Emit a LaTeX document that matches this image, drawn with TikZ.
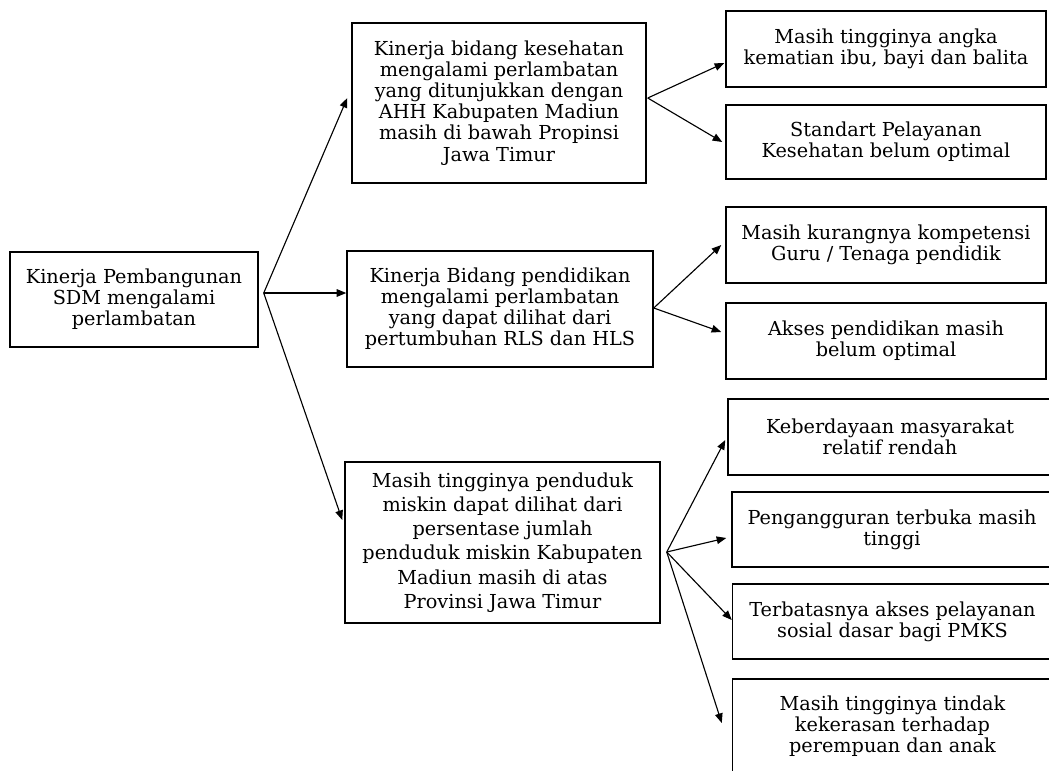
\documentclass[tikz,border=0pt]{standalone}
\usepackage{fontspec}
\setmainfont{DejaVu Serif}
\usetikzlibrary{arrows.meta, calc}

\begin{document}
\begin{tikzpicture}[x=0.025cm, y=-0.025cm, >={Triangle[length=2.4mm, width=1.9mm]},
  every node/.style={font=\fontsize{13.7}{15}\selectfont},
  box/.style={draw, line width=1pt, align=center, inner sep=0pt},
  link/.style={->, line width=0.8pt}]
  \useasboundingbox (0,0) rectangle (1049,770);
  % level 1
  \node[box, minimum width=6.2cm, minimum height=2.375cm] (sdm) at (134,299.5) {Kinerja Pembangunan\\SDM mengalami\\perlambatan};
  % level 2
  \node[box, minimum width=7.35cm, minimum height=4.0cm] (kesehatan) at (499,103) {Kinerja bidang kesehatan\\mengalami perlambatan\\yang ditunjukkan dengan\\AHH Kabupaten Madiun\\masih di bawah Propinsi\\Jawa Timur};
  \node[box, minimum width=7.65cm, minimum height=2.9cm] (pendidikan) at (500,309) {Kinerja Bidang pendidikan\\mengalami perlambatan\\yang dapat dilihat dari\\pertumbuhan RLS dan HLS};
  \node[box, minimum width=7.875cm, minimum height=4.025cm, font=\fontsize{13.7}{17.3}\selectfont] (kemiskinan) at (502.5,542.5) {Masih tingginya penduduk\\miskin dapat dilihat dari\\persentase jumlah\\penduduk miskin Kabupaten\\Madiun masih di atas\\Provinsi Jawa Timur};
  % level 3
  \node[box, minimum width=8.0cm, minimum height=1.9cm] (kematian) at (886,49) {Masih tingginya angka\\kematian ibu, bayi dan balita};
  \node[box, minimum width=8.0cm, minimum height=1.85cm] (standart) at (886,142) {Standart Pelayanan\\Kesehatan belum optimal};
  \node[box, minimum width=8.0cm, minimum height=1.9cm] (guru) at (886,245) {Masih kurangnya kompetensi\\Guru / Tenaga pendidik};
  \node[box, minimum width=8.0cm, minimum height=1.9cm] (akses) at (886,341) {Akses pendidikan masih\\belum optimal};
  \node[box, minimum width=8.1cm, minimum height=1.9cm] (keberdayaan) at (890,437) {Keberdayaan masyarakat\\relatif rendah};
  \node[box, minimum width=8.0cm, minimum height=1.875cm] (pengangguran) at (892,529.5) {Pengangguran terbuka masih\\tinggi};
  \node[box, minimum width=8.0cm, minimum height=1.875cm] (pmks) at (892.5,621.5) {Terbatasnya akses pelayanan\\sosial dasar bagi PMKS};
  \node[box, minimum width=8.0cm, minimum height=2.35cm] (kekerasan) at (892.5,726) {Masih tingginya tindak\\kekerasan terhadap\\perempuan dan anak};
  % forks
  \coordinate (sdmfork) at ($(sdm.east)+(5,-6.5)$);
  \coordinate (kesehatanfork) at ($(kesehatan.east)+(1,-5)$);
  \coordinate (pendidikanfork) at ($(pendidikan.east)+(0,-1)$);
  \coordinate (kemiskinanfork) at ($(kemiskinan.east)+(6,9.5)$);
  \draw[link] (sdmfork) -- ($(kesehatan.west)+(-4,-5)$);
  \draw[link] (sdmfork) -- ($(pendidikan.west)+(0,-16)$);
  \draw[link] (sdmfork) -- ($(kemiskinan.west)+(-2,-22.5)$);
  \draw[link] (kesehatanfork) -- ($(kematian.west)+(-1,14)$);
  \draw[link] (kesehatanfork) -- ($(standart.west)+(-3,0)$);
  \draw[link] (pendidikanfork) -- ($(guru.west)+(-4,0)$);
  \draw[link] (pendidikanfork) -- ($(akses.west)+(-4,-9)$);
  \draw[link] (kemiskinanfork) -- ($(keberdayaan.west)+(-2,3)$);
  \draw[link] (kemiskinanfork) -- ($(pengangguran.west)+(-5,8.5)$);
  \draw[link] (kemiskinanfork) -- ($(pmks.west)+(0,-1.5)$);
  \draw[link] (kemiskinanfork) -- ($(kekerasan.west)+(-10,-3)$);
\end{tikzpicture}
\end{document}
